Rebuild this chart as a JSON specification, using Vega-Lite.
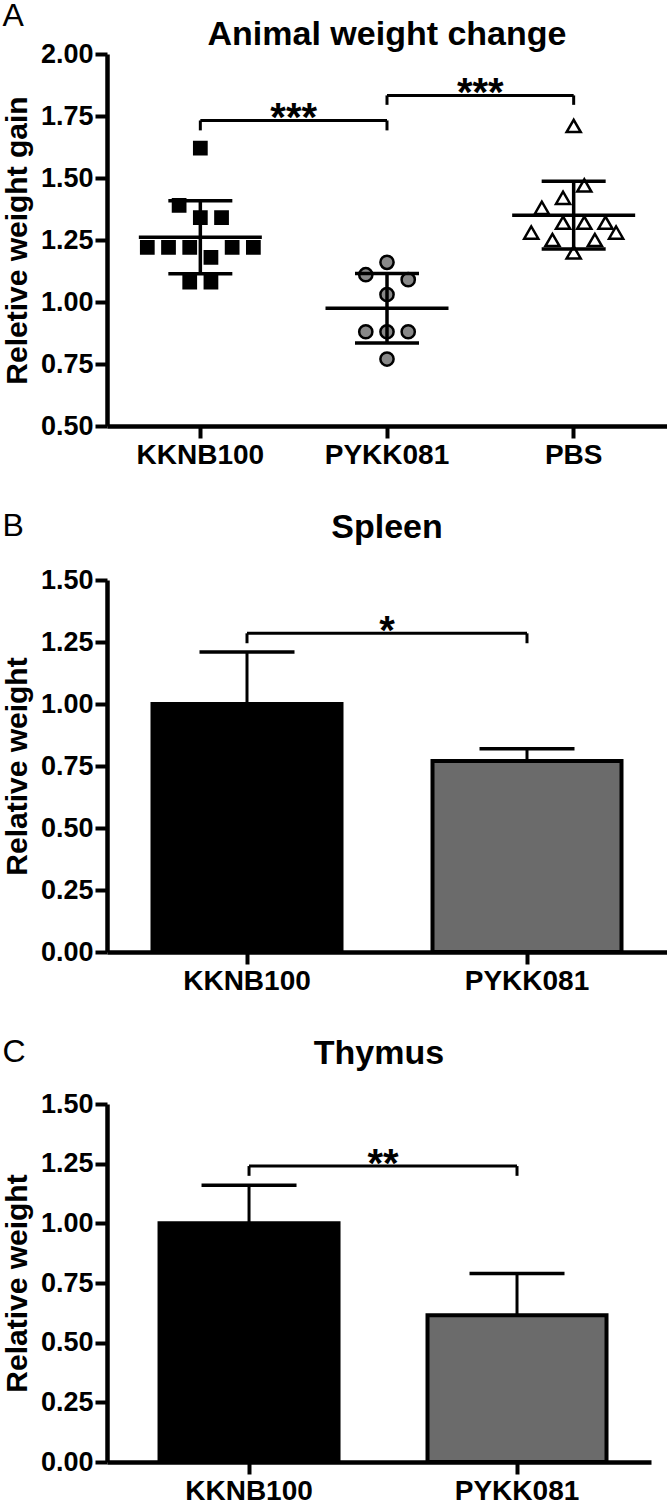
{
  "$schema": "https://vega.github.io/schema/vega-lite/v6.json",
  "padding": {"left": 2, "top": 0, "right": 0, "bottom": 0},
  "spacing": 41,
  "resolve": {"scale": {"fill": "independent", "x": "independent", "y": "independent"}},
  "config": {
    "font": "Liberation Sans",
    "view": {"stroke": null},
    "axis": {
      "domainColor": "black", "domainWidth": 4.5, "tickColor": "black", "tickWidth": 4, "tickSize": 12,
      "labelFont": "Liberation Sans", "labelFontWeight": "bold", "labelFontSize": 27, "labelColor": "black",
      "titleFont": "Liberation Sans", "titleFontWeight": "bold", "titleFontSize": 30, "titleColor": "black",
      "grid": false
    },
    "axisX": {"labelPadding": 3, "labelAngle": 0, "labelFontSize": 28},
    "axisY": {"labelPadding": 2, "titlePadding": 8},
    "title": {"font": "Liberation Sans", "fontWeight": "bold", "fontSize": 34, "color": "black"}
  },
  "vconcat": [
    {
      "title": {"text": "A", "anchor": "start", "frame": "bounds", "fontWeight": "normal", "fontSize": 32, "offset": -15},
      "vconcat": [
        {
          "title": {"text": "Animal weight change", "anchor": "middle", "offset": -8, "dy": 4},
          "width": 560,
          "height": 372,
          "data": {"values": [
            {"group": "KKNB100", "value": 1.62, "col": 0},
            {"group": "KKNB100", "value": 1.39, "col": -2},
            {"group": "KKNB100", "value": 1.34, "col": 0},
            {"group": "KKNB100", "value": 1.34, "col": 2},
            {"group": "KKNB100", "value": 1.22, "col": -5},
            {"group": "KKNB100", "value": 1.22, "col": -3},
            {"group": "KKNB100", "value": 1.22, "col": -1},
            {"group": "KKNB100", "value": 1.22, "col": 3},
            {"group": "KKNB100", "value": 1.22, "col": 5},
            {"group": "KKNB100", "value": 1.18, "col": 1},
            {"group": "KKNB100", "value": 1.08, "col": -1},
            {"group": "KKNB100", "value": 1.08, "col": 1},
            {"group": "PYKK081", "value": 1.16, "col": 0},
            {"group": "PYKK081", "value": 1.11, "col": -2},
            {"group": "PYKK081", "value": 1.09, "col": 2},
            {"group": "PYKK081", "value": 1.03, "col": 0},
            {"group": "PYKK081", "value": 0.88, "col": -2},
            {"group": "PYKK081", "value": 0.88, "col": 0},
            {"group": "PYKK081", "value": 0.88, "col": 2},
            {"group": "PYKK081", "value": 0.77, "col": 0},
            {"group": "PBS", "value": 1.71, "col": 0},
            {"group": "PBS", "value": 1.47, "col": 1},
            {"group": "PBS", "value": 1.42, "col": -1},
            {"group": "PBS", "value": 1.38, "col": -3},
            {"group": "PBS", "value": 1.32, "col": -1},
            {"group": "PBS", "value": 1.32, "col": 1},
            {"group": "PBS", "value": 1.32, "col": 3},
            {"group": "PBS", "value": 1.28, "col": -4},
            {"group": "PBS", "value": 1.28, "col": 4},
            {"group": "PBS", "value": 1.25, "col": -2},
            {"group": "PBS", "value": 1.25, "col": 2},
            {"group": "PBS", "value": 1.20, "col": 0}
          ]},
          "layer": [
            {
              "mark": {"type": "point", "stroke": "black", "strokeWidth": 2.5, "opacity": 1},
              "encoding": {
                "x": {"field": "group", "type": "nominal", "scale": {"type": "band", "domain": ["KKNB100", "PYKK081", "PBS"], "paddingInner": 0, "paddingOuter": 0}, "axis": {"title": null}},
                "xOffset": {"field": "col", "type": "quantitative", "scale": {"domain": [-8.8, 8.8]}},
                "y": {"field": "value", "type": "quantitative", "title": "Reletive weight gain", "scale": {"domain": [0.5, 2.0], "nice": false, "zero": false}, "axis": {"values": [0.5, 0.75, 1, 1.25, 1.5, 1.75, 2], "format": ".2f"}},
                "shape": {"field": "group", "type": "nominal", "scale": {"domain": ["KKNB100", "PYKK081", "PBS"], "range": ["square", "circle", "triangle-up"]}, "legend": null},
                "fill": {"field": "group", "type": "nominal", "scale": {"domain": ["KKNB100", "PYKK081", "PBS"], "range": ["#000000", "#888888", "#ffffff"]}, "legend": null},
                "size": {"field": "group", "type": "nominal", "scale": {"domain": ["KKNB100", "PYKK081", "PBS"], "range": [150, 200, 150]}, "legend": null}
              }
            },
            {
              "mark": {"type": "errorbar", "extent": "stdev", "ticks": {"size": 64, "thickness": 3.5, "color": "black", "opacity": 1}, "rule": {"strokeWidth": 3.5, "color": "black"}},
              "encoding": {
                "x": {"field": "group", "type": "nominal", "title": null},
                "y": {"field": "value", "type": "quantitative", "title": "Reletive weight gain"}
              }
            },
            {
              "mark": {"type": "tick", "size": 123, "thickness": 3.5, "color": "black", "opacity": 1},
              "encoding": {
                "x": {"field": "group", "type": "nominal", "title": null},
                "y": {"aggregate": "mean", "field": "value", "type": "quantitative", "title": "Reletive weight gain"}
              }
            },
            {
              "data": {"values": [
                {"from": "KKNB100", "to": "PYKK081", "top": 1.732, "leg": 1.692, "label": "***"},
                {"from": "PYKK081", "to": "PBS", "top": 1.833, "leg": 1.795, "label": "***"}
              ]},
              "layer": [
                {
                  "mark": {"type": "rule", "strokeWidth": 3, "color": "black"},
                  "encoding": {
                    "x": {"field": "from", "type": "nominal", "title": null, "bandPosition": 0.5},
                    "x2": {"field": "to", "bandPosition": 0.5},
                    "y": {"field": "top", "type": "quantitative", "title": "Reletive weight gain"}
                  }
                },
                {
                  "mark": {"type": "rule", "strokeWidth": 3, "color": "black"},
                  "encoding": {
                    "x": {"field": "from", "type": "nominal", "title": null},
                    "y": {"field": "top", "type": "quantitative", "title": "Reletive weight gain"},
                    "y2": {"field": "leg"}
                  }
                },
                {
                  "mark": {"type": "rule", "strokeWidth": 3, "color": "black"},
                  "encoding": {
                    "x": {"field": "to", "type": "nominal", "title": null},
                    "y": {"field": "top", "type": "quantitative", "title": "Reletive weight gain"},
                    "y2": {"field": "leg"}
                  }
                },
                {
                  "mark": {"type": "text", "fontSize": 40, "fontWeight": "bold", "color": "black", "align": "center", "baseline": "alphabetic", "dy": 11},
                  "encoding": {
                    "x": {"field": "from", "type": "nominal", "title": null, "bandPosition": 1},
                    "y": {"field": "top", "type": "quantitative", "title": "Reletive weight gain"},
                    "text": {"field": "label"}
                  }
                }
              ]
            }
          ]
        }
      ]
    },
    {
      "title": {"text": "B", "anchor": "start", "frame": "bounds", "fontWeight": "normal", "fontSize": 32, "offset": -32},
      "resolve": {"scale": {"fill": "independent"}},
      "vconcat": [
        {
          "title": {"text": "Spleen", "anchor": "middle", "offset": 21},
          "width": 560,
          "height": 372,
          "data": {"values": [
            {"group": "KKNB100", "mean": 1.0, "upper": 1.21},
            {"group": "PYKK081", "mean": 0.77, "upper": 0.82}
          ]},
          "layer": [
            {
              "mark": {"type": "bar", "stroke": "black", "strokeWidth": 4, "size": 189},
              "encoding": {
                "x": {"field": "group", "type": "nominal", "scale": {"type": "band", "domain": ["KKNB100", "PYKK081"], "paddingInner": 0, "paddingOuter": 0}, "axis": {"title": null}},
                "y": {"field": "mean", "type": "quantitative", "title": "Relative weight", "scale": {"domain": [0, 1.5], "nice": false}, "axis": {"values": [0, 0.25, 0.5, 0.75, 1, 1.25, 1.5], "format": ".2f"}},
                "fill": {"field": "group", "type": "nominal", "scale": {"domain": ["KKNB100", "PYKK081"], "range": ["#000000", "#6b6b6b"]}, "legend": null}
              }
            },
            {
              "mark": {"type": "rule", "strokeWidth": 3, "color": "black"},
              "encoding": {
                "x": {"field": "group", "type": "nominal", "title": null},
                "y": {"field": "mean", "type": "quantitative", "title": "Relative weight"},
                "y2": {"field": "upper"}
              }
            },
            {
              "mark": {"type": "tick", "size": 95, "thickness": 3.5, "color": "black", "opacity": 1},
              "encoding": {
                "x": {"field": "group", "type": "nominal", "title": null},
                "y": {"field": "upper", "type": "quantitative", "title": "Relative weight"}
              }
            },
            {
              "data": {"values": [
                {"from": "KKNB100", "to": "PYKK081", "top": 1.285, "leg": 1.245, "label": "*"}
              ]},
              "layer": [
                {
                  "mark": {"type": "rule", "strokeWidth": 3, "color": "black"},
                  "encoding": {
                    "x": {"field": "from", "type": "nominal", "title": null, "bandPosition": 0.5},
                    "x2": {"field": "to", "bandPosition": 0.5},
                    "y": {"field": "top", "type": "quantitative", "title": "Relative weight"}
                  }
                },
                {
                  "mark": {"type": "rule", "strokeWidth": 3, "color": "black"},
                  "encoding": {
                    "x": {"field": "from", "type": "nominal", "title": null},
                    "y": {"field": "top", "type": "quantitative", "title": "Relative weight"},
                    "y2": {"field": "leg"}
                  }
                },
                {
                  "mark": {"type": "rule", "strokeWidth": 3, "color": "black"},
                  "encoding": {
                    "x": {"field": "to", "type": "nominal", "title": null},
                    "y": {"field": "top", "type": "quantitative", "title": "Relative weight"},
                    "y2": {"field": "leg"}
                  }
                },
                {
                  "mark": {"type": "text", "fontSize": 40, "fontWeight": "bold", "color": "black", "align": "center", "baseline": "alphabetic", "dy": 11},
                  "encoding": {
                    "x": {"field": "from", "type": "nominal", "title": null, "bandPosition": 1},
                    "y": {"field": "top", "type": "quantitative", "title": "Relative weight"},
                    "text": {"field": "label"}
                  }
                }
              ]
            }
          ]
        }
      ]
    },
    {
      "title": {"text": "C", "anchor": "start", "frame": "bounds", "fontWeight": "normal", "fontSize": 32, "offset": -32},
      "resolve": {"scale": {"fill": "independent"}},
      "vconcat": [
        {
          "title": {"text": "Thymus", "anchor": "middle", "offset": 19},
          "width": 544,
          "height": 358,
          "data": {"values": [
            {"group": "KKNB100", "mean": 1.0, "upper": 1.16},
            {"group": "PYKK081", "mean": 0.615, "upper": 0.79}
          ]},
          "layer": [
            {
              "mark": {"type": "bar", "stroke": "black", "strokeWidth": 4, "size": 179},
              "encoding": {
                "x": {"field": "group", "type": "nominal", "scale": {"type": "band", "domain": ["KKNB100", "PYKK081"], "paddingInner": 0, "paddingOuter": 0.015, "align": 1}, "axis": {"title": null}},
                "y": {"field": "mean", "type": "quantitative", "title": "Relative weight", "scale": {"domain": [0, 1.5], "nice": false}, "axis": {"values": [0, 0.25, 0.5, 0.75, 1, 1.25, 1.5], "format": ".2f"}},
                "fill": {"field": "group", "type": "nominal", "scale": {"domain": ["KKNB100", "PYKK081"], "range": ["#000000", "#6b6b6b"]}, "legend": null}
              }
            },
            {
              "mark": {"type": "rule", "strokeWidth": 3, "color": "black"},
              "encoding": {
                "x": {"field": "group", "type": "nominal", "title": null},
                "y": {"field": "mean", "type": "quantitative", "title": "Relative weight"},
                "y2": {"field": "upper"}
              }
            },
            {
              "mark": {"type": "tick", "size": 95, "thickness": 3.5, "color": "black", "opacity": 1},
              "encoding": {
                "x": {"field": "group", "type": "nominal", "title": null},
                "y": {"field": "upper", "type": "quantitative", "title": "Relative weight"}
              }
            },
            {
              "data": {"values": [
                {"from": "KKNB100", "to": "PYKK081", "top": 1.24, "leg": 1.199, "label": "**"}
              ]},
              "layer": [
                {
                  "mark": {"type": "rule", "strokeWidth": 3, "color": "black"},
                  "encoding": {
                    "x": {"field": "from", "type": "nominal", "title": null, "bandPosition": 0.5},
                    "x2": {"field": "to", "bandPosition": 0.5},
                    "y": {"field": "top", "type": "quantitative", "title": "Relative weight"}
                  }
                },
                {
                  "mark": {"type": "rule", "strokeWidth": 3, "color": "black"},
                  "encoding": {
                    "x": {"field": "from", "type": "nominal", "title": null},
                    "y": {"field": "top", "type": "quantitative", "title": "Relative weight"},
                    "y2": {"field": "leg"}
                  }
                },
                {
                  "mark": {"type": "rule", "strokeWidth": 3, "color": "black"},
                  "encoding": {
                    "x": {"field": "to", "type": "nominal", "title": null},
                    "y": {"field": "top", "type": "quantitative", "title": "Relative weight"},
                    "y2": {"field": "leg"}
                  }
                },
                {
                  "mark": {"type": "text", "fontSize": 40, "fontWeight": "bold", "color": "black", "align": "center", "baseline": "alphabetic", "dy": 11},
                  "encoding": {
                    "x": {"field": "from", "type": "nominal", "title": null, "bandPosition": 1},
                    "y": {"field": "top", "type": "quantitative", "title": "Relative weight"},
                    "text": {"field": "label"}
                  }
                }
              ]
            }
          ]
        }
      ]
    }
  ]
}
